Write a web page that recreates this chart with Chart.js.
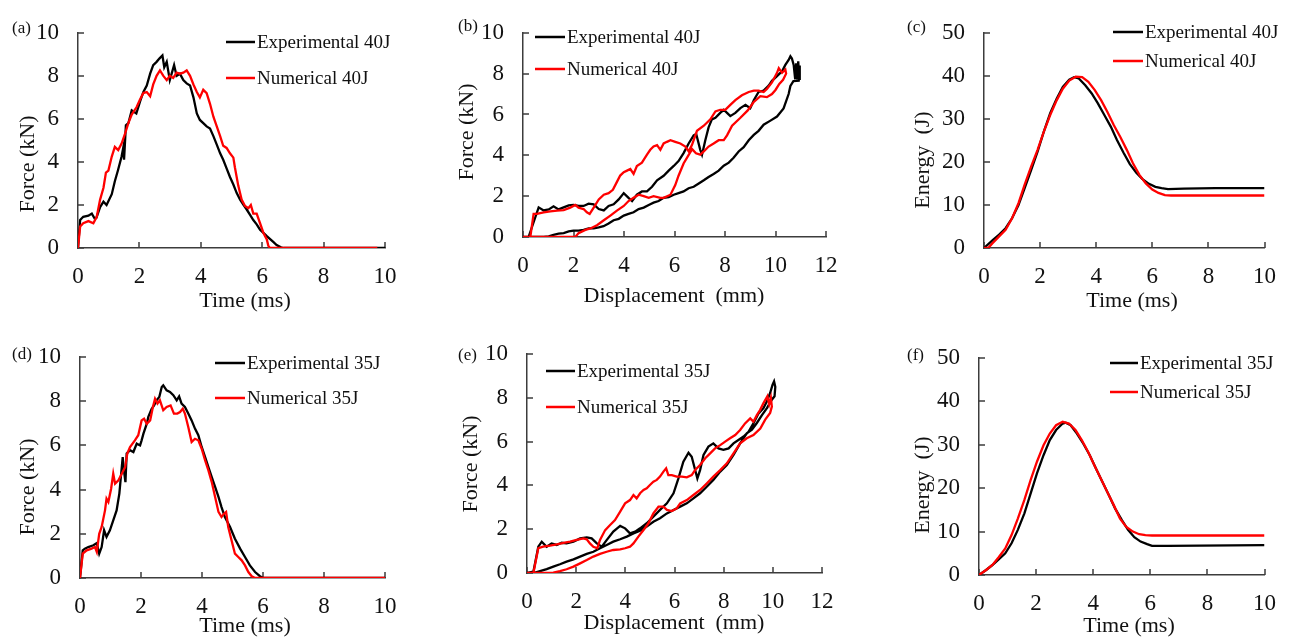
<!DOCTYPE html>
<html>
<head>
<meta charset="utf-8">
<title>Low-velocity impact response</title>
<script src="https://cdn.jsdelivr.net/npm/chart.js@4.4.1/dist/chart.umd.min.js"></script>
<style>
    body { margin: 0; background: #fff; }
    #figure {
        position: relative;
        width: 1291px;
        height: 637px;
        overflow: hidden;
        background: #fff;
        font-family: 'Liberation Serif', 'Times New Roman', serif;
        color: #111;
    }
    #figure canvas { position: absolute; left: 0; top: 0; }
    .txt { position: absolute; white-space: nowrap; line-height: 1; font-size: 22px; transform: translate(-50%, -50%); }
    .txt.rot { transform: translate(-50%, -50%) rotate(-90deg); }
    .tag { position: absolute; white-space: nowrap; line-height: 1; font-size: 17px; transform: translate(0, -50%); }
</style>
</head>
<body>
<div id="figure"></div>

<script>
'use strict';

// series names
var names40 = ['Experimental 40J', 'Numerical 40J'];
var names35 = ['Experimental 35J', 'Numerical 35J'];

// (a) force - time, 40J
var aTimeExp = [0, 0.07, 0.17, 0.34, 0.45, 0.55, 0.6, 0.72, 0.83, 0.93, 1.1, 1.2, 1.3, 1.42, 1.48, 1.5, 1.56, 1.64, 1.75, 1.9, 2.02, 2.13, 2.24, 2.35, 2.45, 2.56, 2.65, 2.75, 2.81, 2.89, 2.99, 3.13, 3.21, 3.32, 3.43, 3.54, 3.65, 3.76, 3.87, 3.97, 4.08, 4.19, 4.3, 4.41, 4.52, 4.63, 4.73, 4.84, 4.95, 5.06, 5.17, 5.28, 5.39, 5.49, 5.6, 5.71, 5.82, 5.93, 6.04, 6.15, 6.25, 6.36, 6.47, 6.61, 6.69, 10];
var aForceExp = [0, 1.3, 1.45, 1.5, 1.6, 1.35, 1.4, 1.9, 2.15, 2.0, 2.5, 3.1, 3.6, 4.25, 4.7, 4.1, 5.7, 5.8, 6.4, 6.25, 6.8, 7.25, 7.55, 8.1, 8.5, 8.65, 8.8, 8.95, 8.4, 8.65, 7.8, 8.5, 8.0, 8.1, 7.8, 7.65, 7.55, 7.0, 6.25, 5.95, 5.8, 5.65, 5.55, 5.2, 4.8, 4.4, 4.1, 3.7, 3.3, 2.95, 2.55, 2.25, 2.0, 1.8, 1.55, 1.3, 1.1, 0.85, 0.7, 0.55, 0.42, 0.28, 0.14, 0.03, 0, 0];
var aTimeNum = [0, 0.07, 0.17, 0.34, 0.5, 0.61, 0.72, 0.83, 0.91, 0.99, 1.1, 1.2, 1.31, 1.42, 1.53, 1.64, 1.75, 1.91, 2.02, 2.13, 2.24, 2.35, 2.45, 2.56, 2.67, 2.78, 2.89, 2.99, 3.1, 3.21, 3.32, 3.43, 3.54, 3.65, 3.76, 3.87, 3.97, 4.08, 4.19, 4.3, 4.41, 4.52, 4.63, 4.73, 4.84, 4.95, 5.06, 5.11, 5.22, 5.33, 5.44, 5.55, 5.63, 5.71, 5.82, 5.93, 6.04, 6.15, 6.2, 6.25, 9.75];
var aForceNum = [0, 1.0, 1.15, 1.25, 1.15, 1.45, 2.25, 2.8, 3.5, 3.6, 4.25, 4.7, 4.55, 4.85, 5.3, 5.8, 6.2, 6.55, 6.9, 7.2, 7.25, 7.05, 7.6, 8.0, 8.25, 8.0, 7.8, 8.0, 7.9, 8.15, 8.1, 8.15, 8.25, 8.0, 7.6, 7.25, 7.0, 7.35, 7.2, 6.7, 6.1, 5.65, 5.2, 4.75, 4.65, 4.4, 4.2, 3.75, 2.9, 2.25, 1.95, 1.85, 2.0, 1.6, 1.6, 1.15, 0.7, 0.4, 0.1, 0, 0];

// (b) force - displacement, 40J (loading then unloading)
var bDispExp = [0, 0.22, 0.62, 0.82, 1.02, 1.21, 1.41, 1.61, 1.81, 2.0, 2.2, 2.4, 2.6, 2.8, 3.0, 3.2, 3.39, 3.59, 3.79, 3.99, 4.18, 4.32, 4.51, 4.71, 4.91, 5.11, 5.31, 5.57, 5.77, 5.97, 6.16, 6.36, 6.56, 6.76, 6.86, 7.02, 7.09, 7.22, 7.35, 7.48, 7.62, 7.81, 7.95, 8.08, 8.21, 8.41, 8.61, 8.81, 9.0, 9.14, 9.33, 9.53, 9.73, 9.86, 10.06, 10.26, 10.39, 10.52, 10.59, 10.65, 10.72, 10.78, 10.82, 10.86, 10.9, 10.94, 10.96, 10.92, 10.71, 10.59, 10.52, 10.32, 10.06, 9.8, 9.53, 9.33, 9.14, 8.94, 8.74, 8.54, 8.34, 8.15, 7.95, 7.75, 7.55, 7.35, 7.16, 6.96, 6.76, 6.56, 6.36, 6.16, 5.97, 5.77, 5.57, 5.37, 5.17, 4.98, 4.78, 4.58, 4.38, 4.18, 3.99, 3.79, 3.59, 3.39, 3.19, 3.0, 2.8, 2.6, 2.4, 2.2, 2.0, 1.81, 1.61, 1.41, 1.21, 1.02, 0.82, 0.29];
var bForceExp = [0, 0, 1.45, 1.3, 1.35, 1.5, 1.35, 1.45, 1.55, 1.57, 1.52, 1.52, 1.63, 1.6, 1.37, 1.3, 1.52, 1.6, 1.84, 2.15, 1.92, 1.76, 2.07, 2.23, 2.23, 2.46, 2.78, 3.0, 3.25, 3.48, 3.72, 4.11, 4.58, 4.98, 5.05, 4.27, 4.03, 4.74, 5.37, 5.76, 5.84, 6.08, 6.23, 6.08, 5.92, 6.08, 6.31, 6.47, 6.31, 6.7, 7.1, 7.17, 7.41, 7.65, 7.88, 8.12, 8.43, 8.67, 8.85, 8.74, 8.43, 7.72, 8.51, 7.7, 8.6, 7.75, 8.4, 7.65, 7.63, 7.4, 7.0, 6.3, 5.9, 5.7, 5.5, 5.2, 5.0, 4.74, 4.4, 4.19, 3.88, 3.64, 3.49, 3.25, 3.09, 2.94, 2.78, 2.62, 2.46, 2.39, 2.23, 2.15, 2.07, 1.95, 1.92, 1.76, 1.68, 1.57, 1.44, 1.37, 1.21, 1.13, 1.05, 0.89, 0.82, 0.66, 0.53, 0.47, 0.42, 0.42, 0.35, 0.31, 0.31, 0.27, 0.19, 0.16, 0.11, 0.03, 0, 0];
var bDispNum = [0, 0.29, 0.42, 0.55, 0.82, 1.08, 1.35, 1.61, 1.87, 2.07, 2.2, 2.4, 2.53, 2.64, 2.8, 3.0, 3.2, 3.39, 3.56, 3.72, 3.85, 3.99, 4.12, 4.25, 4.38, 4.51, 4.71, 4.91, 5.04, 5.17, 5.31, 5.44, 5.57, 5.7, 5.84, 6.03, 6.23, 6.43, 6.56, 6.69, 6.89, 7.16, 7.42, 7.62, 7.81, 8.01, 8.21, 8.41, 8.67, 8.94, 9.14, 9.33, 9.53, 9.66, 9.86, 10.06, 10.13, 10.26, 10.39, 10.42, 10.3, 10.15, 10.0, 9.86, 9.66, 9.4, 9.13, 8.9, 8.61, 8.28, 8.08, 7.95, 7.75, 7.55, 7.35, 7.16, 7.02, 6.85, 6.7, 6.55, 6.36, 6.16, 6.03, 5.84, 5.57, 5.44, 5.17, 4.98, 4.78, 4.58, 4.38, 4.18, 3.99, 3.72, 3.46, 3.2, 2.93, 2.67, 2.47, 2.2, 2.07, 0.29];
var bForceNum = [0, 0, 1.13, 1.13, 1.21, 1.26, 1.29, 1.32, 1.44, 1.57, 1.44, 1.37, 1.21, 1.13, 1.44, 1.84, 2.07, 2.15, 2.31, 2.7, 3.01, 3.17, 3.25, 3.33, 3.09, 3.48, 3.64, 4.03, 4.27, 4.43, 4.5, 4.27, 4.58, 4.66, 4.74, 4.66, 4.58, 4.43, 4.2, 4.5, 5.2, 5.45, 5.76, 6.15, 6.23, 6.23, 6.47, 6.7, 6.94, 7.1, 7.17, 7.17, 7.1, 7.25, 7.57, 8.04, 8.27, 8.04, 8.2, 8.0, 7.7, 7.5, 7.2, 7.0, 6.85, 6.9, 6.6, 6.2, 5.84, 5.45, 4.98, 4.74, 4.74, 4.58, 4.43, 4.19, 4.03, 4.1, 4.3, 4.0, 3.6, 3.0, 2.54, 2.07, 1.92, 1.92, 2.0, 1.92, 2.0, 2.07, 1.92, 1.76, 1.52, 1.29, 1.05, 0.82, 0.58, 0.42, 0.35, 0.19, 0, 0];

// (c) energy - time, 40J
var cTimeExp = [0, 0.32, 0.54, 0.77, 1.0, 1.23, 1.45, 1.68, 1.91, 2.13, 2.36, 2.59, 2.81, 3.04, 3.21, 3.38, 3.61, 3.84, 4.06, 4.29, 4.52, 4.74, 4.97, 5.2, 5.43, 5.65, 5.88, 6.11, 6.33, 6.56, 7.13, 8.26, 10];
var cEnergyExp = [0, 1.9, 3.1, 4.6, 6.9, 10.0, 13.9, 18.1, 22.4, 27.0, 31.3, 34.7, 37.4, 39.1, 39.7, 39.4, 37.8, 35.9, 33.6, 30.9, 28.2, 25.1, 22.2, 19.5, 17.5, 16.0, 14.9, 14.2, 13.9, 13.7, 13.8, 13.9, 13.9];
var cTimeNum = [0, 0.15, 0.32, 0.54, 0.77, 1.0, 1.23, 1.45, 1.68, 1.91, 2.13, 2.36, 2.59, 2.81, 3.04, 3.27, 3.5, 3.72, 3.95, 4.18, 4.4, 4.63, 4.86, 5.09, 5.31, 5.54, 5.77, 6.0, 6.22, 6.45, 6.67, 10];
var cEnergyNum = [0, 0, 1.2, 2.7, 4.2, 6.9, 10.4, 14.7, 18.9, 22.8, 27.0, 30.9, 34.3, 37.0, 38.9, 39.8, 39.7, 38.6, 36.7, 34.3, 31.6, 28.5, 25.8, 22.8, 19.7, 17.0, 15.0, 13.6, 12.8, 12.3, 12.2, 12.2];

// (d) force - time, 35J
var dTimeExp = [0, 0.09, 0.16, 0.27, 0.44, 0.55, 0.63, 0.71, 0.79, 0.87, 0.98, 1.09, 1.2, 1.29, 1.34, 1.4, 1.44, 1.49, 1.53, 1.64, 1.75, 1.86, 1.97, 2.02, 2.08, 2.19, 2.24, 2.35, 2.43, 2.51, 2.6, 2.68, 2.73, 2.84, 2.95, 3.06, 3.17, 3.25, 3.33, 3.44, 3.55, 3.66, 3.77, 3.88, 3.99, 4.1, 4.21, 4.32, 4.43, 4.54, 4.64, 4.75, 4.92, 5.08, 5.25, 5.41, 5.57, 5.74, 5.9, 6.01, 10];
var dForceExp = [0, 1.25, 1.33, 1.4, 1.48, 1.58, 1.1, 1.4, 2.16, 1.86, 2.16, 2.61, 3.06, 3.82, 4.57, 5.47, 4.87, 4.34, 5.63, 5.78, 5.7, 6.08, 6.0, 6.23, 6.53, 6.98, 7.29, 7.66, 7.81, 8.04, 8.19, 8.64, 8.72, 8.49, 8.42, 8.27, 8.04, 8.22, 7.89, 7.74, 7.44, 7.13, 6.76, 6.46, 5.93, 5.48, 5.02, 4.57, 4.12, 3.67, 3.21, 2.76, 2.31, 1.78, 1.33, 0.95, 0.57, 0.27, 0.08, 0, 0];
var dTimeNum = [0, 0.09, 0.22, 0.38, 0.49, 0.55, 0.63, 0.71, 0.82, 0.87, 0.93, 1.02, 1.09, 1.15, 1.26, 1.37, 1.48, 1.55, 1.64, 1.8, 1.91, 2.02, 2.1, 2.19, 2.3, 2.39, 2.46, 2.54, 2.62, 2.73, 2.84, 2.97, 3.08, 3.19, 3.28, 3.37, 3.44, 3.55, 3.66, 3.77, 3.88, 3.99, 4.1, 4.21, 4.32, 4.43, 4.54, 4.64, 4.72, 4.79, 4.86, 4.97, 5.08, 5.19, 5.3, 5.41, 5.52, 5.63, 5.74, 10];
var dForceNum = [0, 1.1, 1.25, 1.33, 1.4, 1.18, 2.0, 2.31, 3.06, 3.59, 3.44, 4.04, 4.72, 4.27, 4.42, 4.72, 5.02, 5.63, 5.93, 6.23, 6.46, 7.13, 7.21, 6.98, 7.13, 7.74, 8.11, 7.89, 8.04, 7.59, 7.74, 7.81, 7.44, 7.44, 7.51, 7.66, 7.44, 6.83, 6.15, 6.3, 6.23, 5.85, 5.33, 4.87, 4.34, 3.67, 2.99, 2.76, 2.91, 2.99, 2.31, 1.7, 1.1, 0.95, 0.8, 0.57, 0.27, 0.08, 0, 0];

// (e) force - displacement, 35J (loading then unloading)
var eDispExp = [0, 0.26, 0.46, 0.6, 0.8, 1.0, 1.21, 1.41, 1.61, 1.89, 2.16, 2.43, 2.63, 2.84, 3.04, 3.24, 3.51, 3.79, 3.99, 4.19, 4.4, 4.6, 4.87, 5.14, 5.41, 5.69, 5.96, 6.16, 6.36, 6.57, 6.7, 6.84, 6.93, 7.04, 7.18, 7.38, 7.58, 7.79, 7.99, 8.2, 8.4, 8.6, 8.81, 9.01, 9.21, 9.42, 9.62, 9.76, 9.89, 9.99, 10.05, 10.1, 10.07, 9.96, 9.76, 9.55, 9.35, 9.15, 8.94, 8.67, 8.4, 8.13, 7.86, 7.58, 7.31, 7.04, 6.77, 6.5, 6.23, 5.96, 5.69, 5.41, 5.14, 4.87, 4.6, 4.33, 4.06, 3.79, 3.51, 3.24, 2.97, 2.7, 2.43, 2.16, 1.89, 1.61, 1.34, 1.07, 0.8, 0.53, 0.26, 0];
var eForceExp = [0, 0.06, 1.2, 1.43, 1.2, 1.35, 1.28, 1.38, 1.35, 1.43, 1.58, 1.63, 1.58, 1.35, 1.2, 1.5, 1.89, 2.15, 2.04, 1.81, 1.89, 2.04, 2.27, 2.57, 2.88, 3.18, 3.64, 4.32, 5.08, 5.49, 5.31, 4.7, 4.32, 4.7, 5.39, 5.77, 5.92, 5.69, 5.62, 5.69, 5.92, 6.07, 6.23, 6.45, 6.83, 7.29, 7.53, 7.84, 8.22, 8.6, 8.75, 8.5, 8.07, 7.91, 7.53, 7.2, 6.85, 6.55, 6.38, 5.92, 5.39, 4.93, 4.63, 4.25, 3.94, 3.64, 3.41, 3.18, 3.03, 2.88, 2.72, 2.5, 2.34, 2.12, 1.93, 1.81, 1.66, 1.54, 1.43, 1.28, 1.13, 0.97, 0.87, 0.75, 0.62, 0.52, 0.4, 0.29, 0.18, 0.09, 0, 0];
var eDispNum = [0, 0.26, 0.46, 0.66, 0.94, 1.21, 1.48, 1.75, 2.02, 2.29, 2.43, 2.56, 2.7, 2.86, 2.97, 3.18, 3.38, 3.58, 3.79, 3.99, 4.19, 4.33, 4.46, 4.6, 4.74, 4.87, 5.0, 5.14, 5.28, 5.41, 5.55, 5.66, 5.75, 5.89, 6.09, 6.3, 6.5, 6.7, 6.84, 7.04, 7.25, 7.45, 7.65, 7.86, 8.06, 8.26, 8.47, 8.67, 8.87, 9.08, 9.21, 9.35, 9.48, 9.62, 9.78, 9.85, 9.92, 9.96, 9.89, 9.69, 9.49, 9.21, 8.94, 8.67, 8.4, 8.13, 7.86, 7.58, 7.31, 7.04, 6.77, 6.5, 6.23, 6.09, 5.89, 5.69, 5.55, 5.35, 5.14, 4.94, 4.74, 4.53, 4.33, 4.19, 3.99, 3.79, 3.51, 3.24, 2.97, 2.7, 2.43, 2.16, 1.89, 1.61, 1.34, 1.07, 0.8, 0.26];
var eForceNum = [0, 0, 1.13, 1.2, 1.25, 1.31, 1.38, 1.43, 1.51, 1.58, 1.54, 1.35, 1.2, 1.13, 1.51, 1.96, 2.19, 2.42, 2.8, 3.18, 3.33, 3.56, 3.41, 3.64, 3.79, 3.87, 4.02, 4.17, 4.25, 4.4, 4.63, 4.78, 4.47, 4.47, 4.4, 4.4, 4.37, 4.47, 4.7, 4.93, 5.24, 5.46, 5.69, 5.84, 6.0, 6.15, 6.3, 6.53, 6.83, 7.06, 6.91, 7.21, 7.44, 7.76, 8.07, 7.7, 8.0, 7.6, 7.31, 7.0, 6.6, 6.3, 6.15, 5.92, 5.46, 5.01, 4.7, 4.4, 4.09, 3.79, 3.56, 3.33, 3.18, 2.95, 2.83, 2.88, 3.03, 3.03, 2.72, 2.27, 1.96, 1.66, 1.35, 1.2, 1.13, 1.08, 1.05, 0.97, 0.87, 0.75, 0.59, 0.44, 0.29, 0.17, 0.09, 0.02, 0, 0];

// (f) energy - time, 35J
var fTimeExp = [0, 0.25, 0.47, 0.69, 0.92, 1.14, 1.36, 1.59, 1.81, 2.03, 2.26, 2.48, 2.7, 2.93, 3.04, 3.21, 3.43, 3.65, 3.88, 4.1, 4.32, 4.55, 4.77, 5.0, 5.22, 5.44, 5.66, 5.89, 6.06, 6.61, 10];
var fEnergyExp = [0, 1.15, 2.3, 3.6, 5.0, 7.3, 10.4, 14.2, 18.8, 23.4, 27.6, 31.1, 33.4, 34.9, 35.1, 34.5, 32.6, 30.3, 27.6, 24.5, 21.5, 18.4, 15.3, 12.7, 10.4, 8.7, 7.7, 7.1, 6.7, 6.7, 6.9];
var fTimeNum = [0, 0.25, 0.47, 0.69, 0.92, 1.14, 1.36, 1.59, 1.81, 2.03, 2.26, 2.48, 2.7, 2.93, 3.15, 3.38, 3.6, 3.82, 4.04, 4.27, 4.49, 4.72, 4.94, 5.16, 5.39, 5.61, 5.83, 6.06, 10];
var fEnergyNum = [0, 1.15, 2.3, 4.1, 6.1, 9.2, 13.0, 17.3, 21.9, 26.1, 29.9, 32.6, 34.5, 35.3, 34.9, 33.4, 31.1, 28.4, 25.3, 22.2, 19.2, 16.1, 13.0, 11.1, 10.0, 9.4, 9.2, 9.1, 9.1];

var FIG_W = 1291;
var FIG_H = 637;
var SERIF = "'Liberation Serif', 'Times New Roman', serif";
var AXIS_COLOR = '#3c3c3c';

let panels = [
    {
        tag: '(a)', names: names40, xs: [aTimeExp, aTimeNum], ys: [aForceExp, aForceNum],
        xMax: 10, yMax: 10, yStep: 2, xTitle: 'Time (ms)', yTitle: 'Force (kN)',
        area: { l: 78, t: 32, r: 385, b: 248 }, xTitlePos: [245, 300], yTitlePos: [27, 164], tagPos: [12, 27],
        legend: { x1: 226, x2: 255, ys: [42, 78] }
    },
    {
        tag: '(b)', names: names40, xs: [bDispExp, bDispNum], ys: [bForceExp, bForceNum],
        xMax: 12, yMax: 10, yStep: 2, xTitle: 'Displacement\u00a0 (mm)', yTitle: 'Force (kN)',
        area: { l: 523, t: 25, r: 826, b: 237 }, xTitlePos: [674, 295], yTitlePos: [466, 132], tagPos: [458, 25],
        legend: { x1: 535, x2: 565, ys: [37, 69] }
    },
    {
        tag: '(c)', names: names40, xs: [cTimeExp, cTimeNum], ys: [cEnergyExp, cEnergyNum],
        xMax: 10, yMax: 50, yStep: 10, xTitle: 'Time (ms)', yTitle: 'Energy\u00a0 (J)',
        area: { l: 984, t: 32, r: 1278, b: 248 }, xTitlePos: [1132, 300], yTitlePos: [922, 160], tagPos: [907, 26],
        legend: { x1: 1113, x2: 1143, ys: [32, 61] }
    },
    {
        tag: '(d)', names: names35, xs: [dTimeExp, dTimeNum], ys: [dForceExp, dForceNum],
        xMax: 10, yMax: 10, yStep: 2, xTitle: 'Time (ms)', yTitle: 'Force (kN)',
        area: { l: 80, t: 357, r: 385, b: 578 }, xTitlePos: [245, 625], yTitlePos: [27, 487], tagPos: [12, 353],
        legend: { x1: 215, x2: 245, ys: [363, 398] }
    },
    {
        tag: '(e)', names: names35, xs: [eDispExp, eDispNum], ys: [eForceExp, eForceNum],
        xMax: 12, yMax: 10, yStep: 2, xTitle: 'Displacement\u00a0 (mm)', yTitle: 'Force (kN)',
        area: { l: 527, t: 354, r: 822, b: 573 }, xTitlePos: [674, 622], yTitlePos: [470, 464], tagPos: [458, 354],
        legend: { x1: 546, x2: 575, ys: [371, 407] }
    },
    {
        tag: '(f)', names: names35, xs: [fTimeExp, fTimeNum], ys: [fEnergyExp, fEnergyNum],
        xMax: 10, yMax: 50, yStep: 10, xTitle: 'Time (ms)', yTitle: 'Energy\u00a0 (J)',
        area: { l: 979, t: 358, r: 1278, b: 575 }, xTitlePos: [1129, 625], yTitlePos: [922, 485], tagPos: [907, 354],
        legend: { x1: 1110, x2: 1138, ys: [363, 392] }
    }
];

// short tick marks pointing into the plot area
let innerTicks = {
    id: 'innerTicks',
    beforeDatasetsDraw(chart) {
        let ctx = chart.ctx;
        let area = chart.chartArea;
        let len = 6;
        ctx.save();
        ctx.strokeStyle = AXIS_COLOR;
        ctx.lineWidth = 1.5;
        ctx.beginPath();
        chart.scales.x.ticks.forEach(t => {
            let px = Math.round(chart.scales.x.getPixelForValue(t.value));
            ctx.moveTo(px, area.bottom);
            ctx.lineTo(px, area.bottom - len);
        });
        chart.scales.y.ticks.forEach(t => {
            let py = Math.round(chart.scales.y.getPixelForValue(t.value));
            ctx.moveTo(area.left, py);
            ctx.lineTo(area.left + len, py);
        });
        ctx.stroke();
        ctx.restore();
    }
};

// line-sample legend placed inside the panel
let sampleLegend = {
    id: 'sampleLegend',
    afterDatasetsDraw(chart, args, opts) {
        let ctx = chart.ctx;
        ctx.save();
        ctx.font = '19px ' + SERIF;
        ctx.textBaseline = 'middle';
        ctx.textAlign = 'left';
        chart.data.datasets.forEach((ds, i) => {
            let y = opts.ys[i];
            ctx.strokeStyle = ds.borderColor;
            ctx.lineWidth = 2.5;
            ctx.beginPath();
            ctx.moveTo(opts.x1, y);
            ctx.lineTo(opts.x2, y);
            ctx.stroke();
            ctx.fillStyle = '#111';
            ctx.fillText(ds.label, opts.x2 + 2, y + 1);
        });
        ctx.restore();
    }
};

function toPoints(xs, ys) {
    return xs.map((x, i) => ({ x: x, y: ys[i] }));
}

function addText(cls, text, pos) {
    let el = document.createElement('div');
    el.className = cls;
    el.textContent = text;
    el.style.left = pos[0] + 'px';
    el.style.top = pos[1] + 'px';
    document.getElementById('figure').appendChild(el);
}

function buildPanel(p) {
    let figure = document.getElementById('figure');
    let canvas = document.createElement('canvas');
    canvas.width = FIG_W;
    canvas.height = FIG_H;
    figure.appendChild(canvas);

    let yBoxWidth = 60;
    let xBoxHeight = 50;
    let tickFont = { family: SERIF, size: 23 };

    new Chart(canvas, {
        type: 'line',
        data: {
            datasets: [
                { label: p.names[0], data: toPoints(p.xs[0], p.ys[0]), borderColor: '#000000', order: 2 },
                { label: p.names[1], data: toPoints(p.xs[1], p.ys[1]), borderColor: '#ff0000', order: 1 }
            ]
        },
        options: {
            responsive: false,
            animation: false,
            events: [],
            layout: {
                padding: {
                    left: p.area.l - yBoxWidth,
                    top: p.area.t,
                    right: FIG_W - p.area.r,
                    bottom: FIG_H - p.area.b - xBoxHeight
                }
            },
            elements: {
                point: { radius: 0 },
                line: { borderWidth: 2.3, tension: 0, fill: false }
            },
            plugins: {
                legend: { display: false },
                tooltip: { enabled: false },
                sampleLegend: p.legend
            },
            scales: {
                x: {
                    type: 'linear',
                    min: 0,
                    max: p.xMax,
                    grid: { display: false, drawTicks: false },
                    border: { display: true, color: AXIS_COLOR, width: 1.5 },
                    ticks: { stepSize: 2, autoSkip: false, maxRotation: 0, padding: 15, color: '#111', font: tickFont },
                    afterFit: scale => { scale.height = xBoxHeight; }
                },
                y: {
                    type: 'linear',
                    min: 0,
                    max: p.yMax,
                    grid: { display: false, drawTicks: false },
                    border: { display: true, color: AXIS_COLOR, width: 1.5 },
                    ticks: { stepSize: p.yStep, autoSkip: false, padding: 19, color: '#111', font: tickFont },
                    afterFit: scale => { scale.width = yBoxWidth; }
                }
            }
        },
        plugins: [innerTicks, sampleLegend]
    });

    addText('tag', p.tag, p.tagPos);
    addText('txt', p.xTitle, p.xTitlePos);
    addText('txt rot', p.yTitle, p.yTitlePos);
}

panels.forEach(p => buildPanel(p));
</script>
</body>
</html>
